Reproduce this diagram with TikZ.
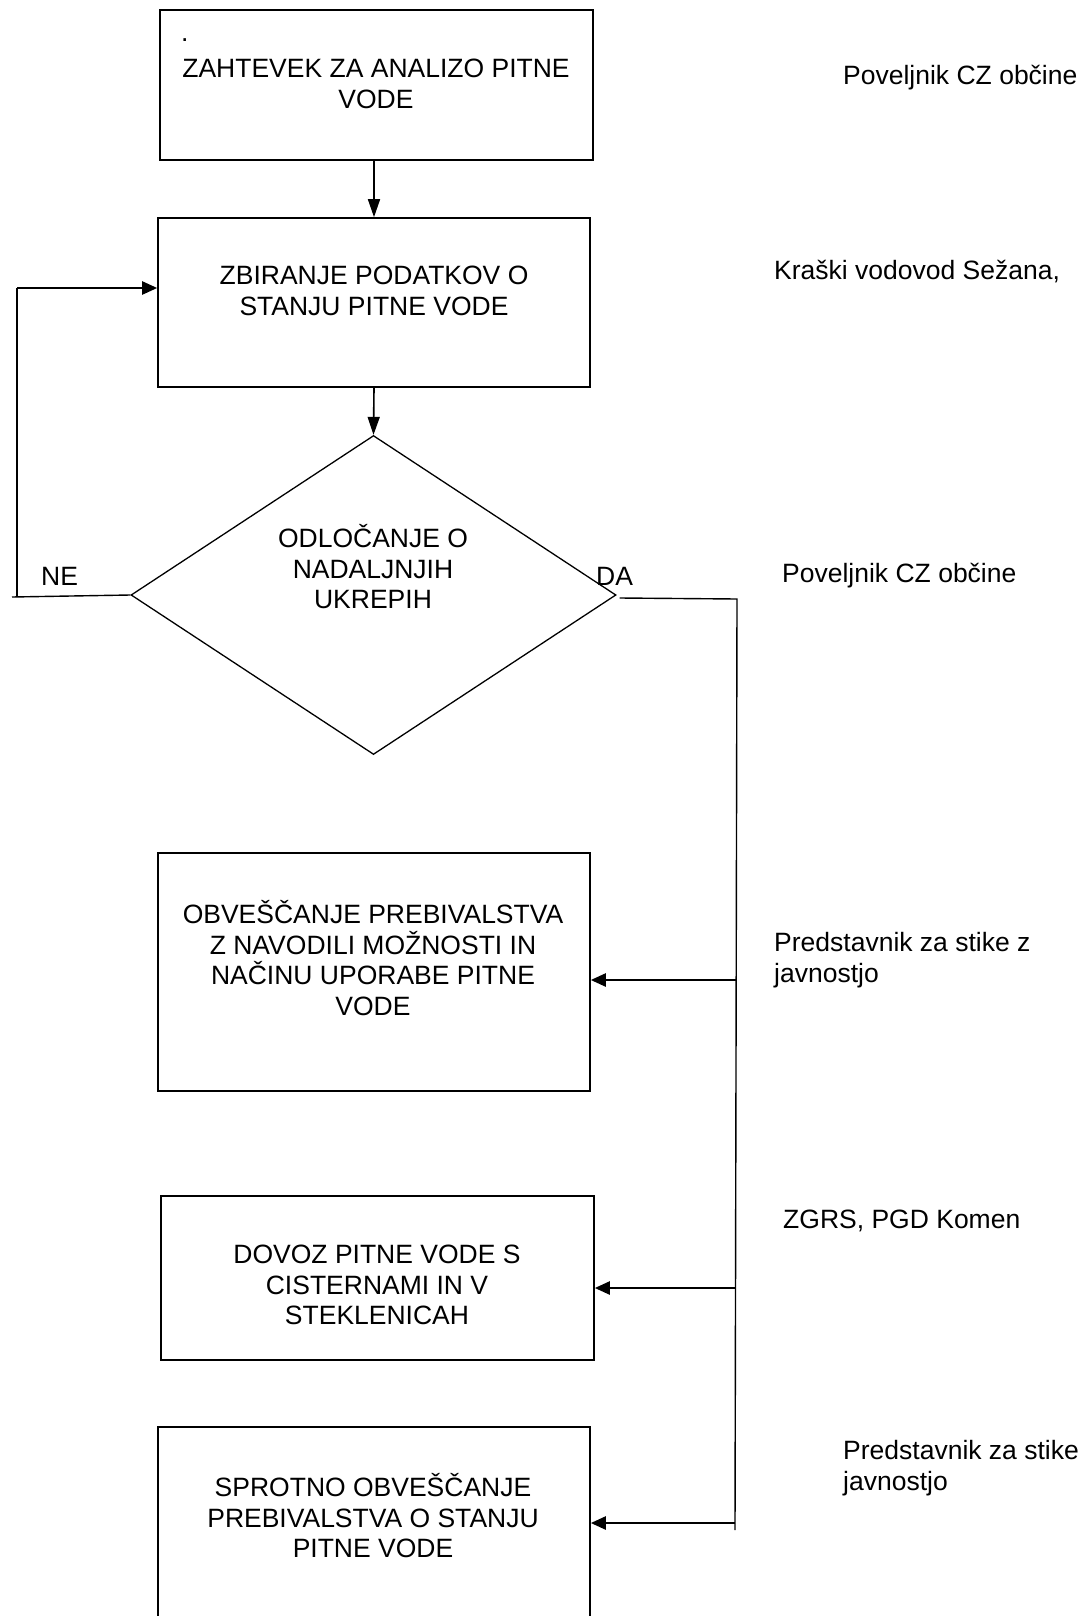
\documentclass[tikz,border=0pt]{standalone}
\usepackage{fontspec}
\setmainfont{Liberation Sans}
\usetikzlibrary{arrows.meta,shapes.geometric}
\begin{document}
\begin{tikzpicture}[x=1pt,y=-1pt,
  every node/.style={font=\fontsize{26.5}{30.5}\selectfont},
  boxstyle/.style={draw,line width=1.6pt,rectangle,inner sep=0},
  diastyle/.style={draw,line width=1.3pt,diamond,inner sep=0,minimum width=485pt,minimum height=319pt},
  txt/.style={align=center,inner sep=0},
  side/.style={anchor=west,align=left,inner sep=0},
  conn/.style={line width=1.4pt},
  arr/.style={line width=1.6pt,-{Triangle[length=18pt,width=12pt]}},
  sarr/.style={line width=2.4pt,-{Triangle[length=15pt,width=13pt]}}]
\clip (0,0) rectangle (1082,1616);
\fill[white] (0,0) rectangle (1082,1616);
% boxes
\node[boxstyle,minimum width=433pt,minimum height=150pt] (b1) at (376.5,85) {};
\node[boxstyle,minimum width=432pt,minimum height=169pt] (b2) at (374,302.5) {};
\node[diastyle] (d) at (373.5,595) {};
\node[boxstyle,minimum width=432pt,minimum height=238pt] (b3) at (374,972) {};
\node[boxstyle,minimum width=433pt,minimum height=164pt] (b4) at (377.5,1278) {};
\node[boxstyle,minimum width=432pt,minimum height=210pt] (b5) at (374,1532) {};
% texts in boxes
\node[side] (dot) at (181,40) {.};
\node[txt] (t1) at (376,84) {ZAHTEVEK ZA ANALIZO PITNE\\VODE};
\node[txt] (t2) at (374,291) {ZBIRANJE PODATKOV O\\STANJU PITNE VODE};
\node[txt] (t3) at (373,567) {ODLOČANJE O\\NADALJNJIH\\UKREPIH};
\node[txt] (t4) at (373,958) {OBVEŠČANJE PREBIVALSTVA\\Z NAVODILI MOŽNOSTI IN\\NAČINU UPORABE PITNE\\VODE};
\node[txt] (t5) at (377,1285) {DOVOZ PITNE VODE S\\CISTERNAMI IN V\\STEKLENICAH};
\node[txt] (t6) at (373,1516) {SPROTNO OBVEŠČANJE\\PREBIVALSTVA O STANJU\\PITNE VODE};
% side labels
\node[side] (s1) at (843,78) {Poveljnik CZ občine};
\node[side] (s2) at (774,272) {Kraški vodovod Sežana,};
\node[side] (s3) at (782,576) {Poveljnik CZ občine};
\node[side] (s4) at (774,960) {Predstavnik za stike z\\javnostjo};
\node[side] (s5) at (783,1221) {ZGRS, PGD Komen};
\node[side] (s6) at (843,1468) {Predstavnik za stike\\javnostjo};
\node[side] (ne) at (41,576) {NE};
\node[side] (da) at (596,576) {DA};
% coordinates
\coordinate (nel) at (12,597);
\coordinate (nec) at (17,597);
\coordinate (net) at (17,288);
\coordinate (dar) at (737,599);
\coordinate (dab) at (735,1530);
\coordinate (a3) at (736,980);
\coordinate (a4) at (735,1288);
\coordinate (a5) at (735,1523);
% connectors
\draw[arr] (b2.north |- b1.south) -- (b2.north);
\draw[arr] (b2.south) -- (d.north);
\draw[conn] (d.west) -- (nel);
\draw[conn] (nec) -- (net);
\draw[sarr] (net) -- (b2.west |- net);
\draw[conn] (d.east) ++(3,3) -- (dar) -- (dab);
\draw[sarr] (a3) -- (b3.east |- a3);
\draw[sarr] (a4) -- (b4.east |- a4);
\draw[sarr] (a5) -- (b5.east |- a5);
\end{tikzpicture}
\end{document}
